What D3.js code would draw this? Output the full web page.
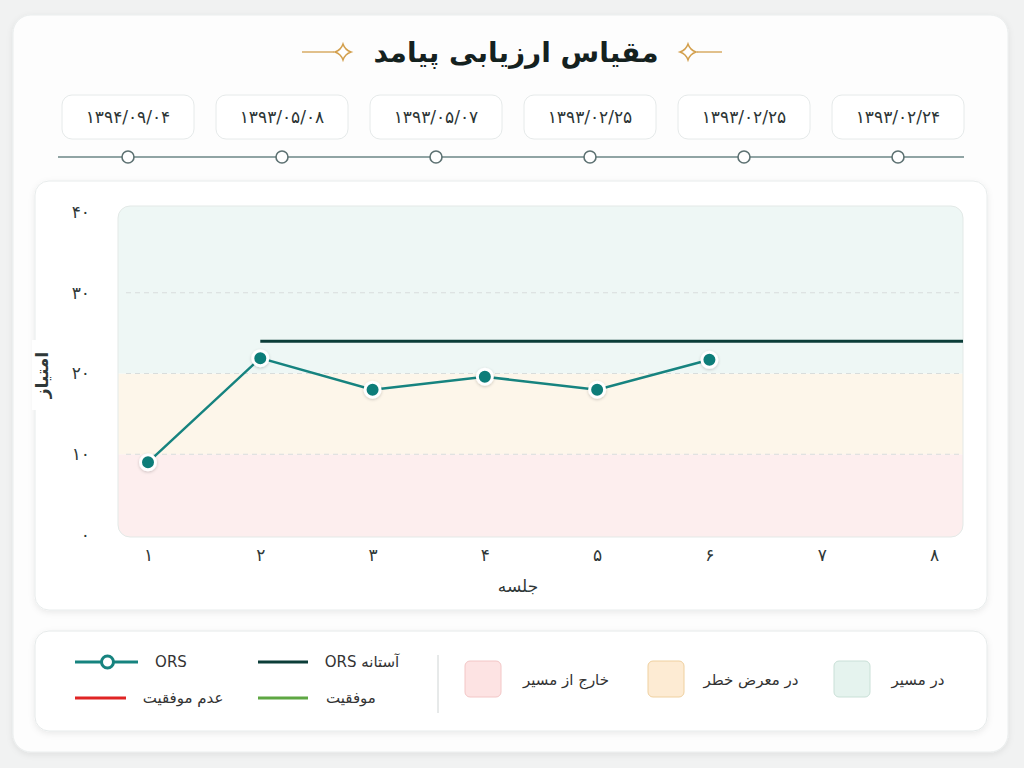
<!DOCTYPE html>
<html>
<head>
<meta charset="utf-8">
<script src="https://cdn.jsdelivr.net/npm/d3@7"></script>
<style>
  body { margin: 0; background: #f1f2f2; }
  svg text { font-family: "DejaVu Sans", "Noto Sans", sans-serif; }
</style>
</head>
<body>
<svg id="svgOrs" width="1024" height="768"></svg>
<script>
// ORS outcome chart
var sessions = [1, 2, 3, 4, 5, 6, 7, 8];
var orsScores = [9, 21.9, 18, 19.6, 18, 21.7];
var orsThreshold = 24;
var yTicks = [0, 10, 20, 30, 40];
var sessionDates = ["۱۳۹۴/۰۹/۰۴", "۱۳۹۳/۰۵/۰۸", "۱۳۹۳/۰۵/۰۷", "۱۳۹۳/۰۲/۲۵", "۱۳۹۳/۰۲/۲۵", "۱۳۹۳/۰۲/۲۴"];
var zoneNames = ["خارج از مسیر", "در معرض خطر", "در مسیر"];
var zoneLimits = [[0, 10], [10, 20], [20, 40]];
var lineLegend = [
  {label: "ORS", color: "#16837f", marker: true},
  {label: "آستانه ORS", color: "#0b3d38", marker: false},
  {label: "عدم موفقیت", color: "#e02424", marker: false},
  {label: "موفقیت", color: "#5ea743", marker: false}
];

var zoneFill = ["#fdeeee", "#fdf6ea", "#eef7f5"];
var swatchFill = ["#fde3e3", "#fdebd3", "#e5f3ee"];
var swatchStroke = ["#f3c6c6", "#efd09f", "#c9e0d7"];

function toFa(n) {
  return String(n).replace(/\d/g, function(d) { return "۰۱۲۳۴۵۶۷۸۹"[d]; });
}

var svg = d3.select("#svgOrs");

// shadow filter
var defs = svg.append("defs");
var sh = defs.append("filter").attr("id", "cardShadow")
  .attr("x", "-5%").attr("y", "-5%").attr("width", "110%").attr("height", "115%");
sh.append("feDropShadow").attr("dx", 0).attr("dy", 2).attr("stdDeviation", 3)
  .attr("flood-color", "#000").attr("flood-opacity", 0.08);
var ps = defs.append("filter").attr("id", "dotShadow")
  .attr("x", "-50%").attr("y", "-50%").attr("width", "200%").attr("height", "200%");
ps.append("feDropShadow").attr("dx", 0).attr("dy", 1).attr("stdDeviation", 1.5)
  .attr("flood-color", "#000").attr("flood-opacity", 0.2);

// main card
svg.append("rect")
  .attr("x", 13).attr("y", 15).attr("width", 995).attr("height", 737)
  .attr("rx", 18).attr("fill", "#fdfdfd").attr("stroke", "#ebeeee")
  .attr("filter", "url(#cardShadow)");

// title
svg.append("text")
  .attr("x", 516).attr("y", 62)
  .style("text-anchor", "middle")
  .style("direction", "rtl")
  .style("font-size", "28px")
  .style("font-weight", "bold")
  .style("fill", "#14211f")
  .text("مقیاس ارزیابی پیامد");

function star(cx, cy) {
  var r = 8, k = 2;
  var p = "M" + cx + "," + (cy - r)
    + " Q" + (cx + k) + "," + (cy - k) + " " + (cx + r) + "," + cy
    + " Q" + (cx + k) + "," + (cy + k) + " " + cx + "," + (cy + r)
    + " Q" + (cx - k) + "," + (cy + k) + " " + (cx - r) + "," + cy
    + " Q" + (cx - k) + "," + (cy - k) + " " + cx + "," + (cy - r) + "Z";
  svg.append("path").attr("d", p)
    .attr("fill", "#fff").attr("stroke", "#d3a04e").attr("stroke-width", 1.5);
}
svg.append("line").attr("x1", 302).attr("x2", 334).attr("y1", 52).attr("y2", 52)
  .attr("stroke", "#d3a04e").attr("stroke-width", 1.3);
star(343, 52);
svg.append("line").attr("x1", 697).attr("x2", 722).attr("y1", 52).attr("y2", 52)
  .attr("stroke", "#d3a04e").attr("stroke-width", 1.3);
star(688, 52);

// date timeline
var dateScale = d3.scalePoint().domain(d3.range(sessionDates.length)).range([128, 898]);
svg.append("line")
  .attr("x1", 58).attr("x2", 964).attr("y1", 157).attr("y2", 157)
  .attr("stroke", "#90a4a4").attr("stroke-width", 2);

var dateG = svg.selectAll(".datePill").data(sessionDates).enter()
  .append("g").attr("class", "datePill");
dateG.append("rect")
  .attr("x", function(d, i) { return dateScale(i) - 66; })
  .attr("y", 95).attr("width", 132).attr("height", 44).attr("rx", 10)
  .attr("fill", "#fff").attr("stroke", "#e6eaea");
dateG.append("text")
  .attr("x", function(d, i) { return dateScale(i); })
  .attr("y", 123)
  .style("text-anchor", "middle")
  .style("direction", "ltr")
  .style("font-size", "17px")
  .style("fill", "#2c3535")
  .text(function(d) { return d; });
dateG.append("circle")
  .attr("cx", function(d, i) { return dateScale(i); })
  .attr("cy", 157).attr("r", 6)
  .attr("fill", "#fff").attr("stroke", "#5d7172").attr("stroke-width", 1.6);

// chart card
svg.append("rect")
  .attr("x", 35).attr("y", 181).attr("width", 952).attr("height", 429)
  .attr("rx", 14).attr("fill", "#fff").attr("stroke", "#e8ecec")
  .attr("filter", "url(#cardShadow)");

var plot = {left: 118, right: 963, top: 206, bottom: 537};
var x = d3.scaleLinear().domain([1, 8]).range([148, 934]);
var y = d3.scaleLinear().domain([0, 40]).range([535, 212]);

var clip = defs.append("clipPath").attr("id", "plotClip");
clip.append("rect")
  .attr("x", plot.left).attr("y", plot.top)
  .attr("width", plot.right - plot.left).attr("height", plot.bottom - plot.top)
  .attr("rx", 12);

var zoneG = svg.append("g").attr("clip-path", "url(#plotClip)");
zoneG.selectAll("rect").data(zoneLimits).enter().append("rect")
  .attr("x", plot.left)
  .attr("width", plot.right - plot.left)
  .attr("y", function(d, i) { return i == 2 ? plot.top : y(d[1]); })
  .attr("height", function(d, i) {
    var top = i == 2 ? plot.top : y(d[1]);
    var bot = i == 0 ? plot.bottom : y(d[0]);
    return bot - top;
  })
  .attr("fill", function(d, i) { return zoneFill[i]; });
svg.append("rect")
  .attr("x", plot.left).attr("y", plot.top)
  .attr("width", plot.right - plot.left).attr("height", plot.bottom - plot.top)
  .attr("rx", 12).attr("fill", "none").attr("stroke", "#e3e9e7");

// grid lines
svg.selectAll(".grid").data([10, 20, 30]).enter().append("line")
  .attr("class", "grid")
  .attr("x1", plot.left + 8).attr("x2", plot.right - 4)
  .attr("y1", function(d) { return y(d); })
  .attr("y2", function(d) { return y(d); })
  .attr("stroke", "#d8dddc").attr("stroke-dasharray", "5,4");

// axes
var yAxis = svg.append("g")
  .attr("transform", "translate(" + plot.left + ",0)")
  .call(d3.axisLeft(y).tickValues(yTicks).tickSize(0).tickPadding(28).tickFormat(toFa));
var xAxis = svg.append("g")
  .attr("transform", "translate(0," + plot.bottom + ")")
  .call(d3.axisBottom(x).tickValues(sessions).tickSize(0).tickPadding(12).tickFormat(toFa));
[yAxis, xAxis].forEach(function(a) {
  a.select(".domain").remove();
  a.selectAll("text").style("font-size", "17px").style("fill", "#2f3838")
    .style("font-family", "DejaVu Sans, sans-serif");
});

// axis titles
svg.append("rect").attr("x", 32).attr("y", 340).attr("width", 20).attr("height", 70)
  .attr("fill", "#fff");
svg.append("text")
  .attr("transform", "translate(48,375) rotate(-90)")
  .style("text-anchor", "middle")
  .style("direction", "rtl")
  .style("font-size", "17px")
  .style("font-weight", "bold")
  .style("fill", "#2f3838")
  .text("امتیاز");
svg.append("text")
  .attr("x", 518).attr("y", 592)
  .style("text-anchor", "middle")
  .style("direction", "rtl")
  .style("font-size", "17px")
  .style("fill", "#2f3838")
  .text("جلسه");

// threshold line
svg.append("line")
  .attr("x1", x(2)).attr("x2", plot.right)
  .attr("y1", y(orsThreshold)).attr("y2", y(orsThreshold))
  .attr("stroke", "#0b3d38").attr("stroke-width", 3);

// ORS line
var orsLine = d3.line()
  .x(function(d, i) { return x(sessions[i]); })
  .y(function(d) { return y(d); });
svg.append("path").datum(orsScores)
  .attr("d", orsLine)
  .attr("fill", "none").attr("stroke", "#16837f").attr("stroke-width", 2.5);
svg.selectAll(".orsDot").data(orsScores).enter().append("circle")
  .attr("class", "orsDot")
  .attr("cx", function(d, i) { return x(sessions[i]); })
  .attr("cy", function(d) { return y(d); })
  .attr("r", 7.5)
  .attr("fill", "#0f7d79").attr("stroke", "#fff").attr("stroke-width", 3)
  .attr("filter", "url(#dotShadow)");

// legend card
svg.append("rect")
  .attr("x", 35).attr("y", 631).attr("width", 952).attr("height", 100)
  .attr("rx", 14).attr("fill", "#fff").attr("stroke", "#e6eaea")
  .attr("filter", "url(#cardShadow)");

var legPos = [[75, 138, 171, 662], [258, 308, 362, 662], [75, 126, 183, 698], [258, 308, 351, 698]];
lineLegend.forEach(function(d, i) {
  var p = legPos[i];
  svg.append("line")
    .attr("x1", p[0]).attr("x2", p[1]).attr("y1", p[3]).attr("y2", p[3])
    .attr("stroke", d.color).attr("stroke-width", 3);
  if (d.marker) {
    svg.append("circle").attr("cx", (p[0] + p[1]) / 2 + 1).attr("cy", p[3]).attr("r", 6)
      .attr("fill", "#fff").attr("stroke", d.color).attr("stroke-width", 3);
  }
  svg.append("text")
    .attr("x", p[2]).attr("y", p[3] + 5)
    .style("text-anchor", "middle")
    .style("direction", "rtl")
    .style("font-size", "15px")
    .style("fill", "#333")
    .text(d.label);
});

svg.append("line").attr("x1", 438).attr("x2", 438).attr("y1", 655).attr("y2", 713)
  .attr("stroke", "#cfd4d4");

var swatchX = [465, 648, 834];
var swatchTextX = [566, 751, 918];
zoneNames.forEach(function(name, i) {
  svg.append("rect")
    .attr("x", swatchX[i]).attr("y", 661).attr("width", 36).attr("height", 36).attr("rx", 5)
    .attr("fill", swatchFill[i]).attr("stroke", swatchStroke[i]);
  svg.append("text")
    .attr("x", swatchTextX[i]).attr("y", 685)
    .style("text-anchor", "middle")
    .style("direction", "rtl")
    .style("font-size", "15px")
    .style("fill", "#333")
    .text(name);
});
</script>
</body>
</html>
